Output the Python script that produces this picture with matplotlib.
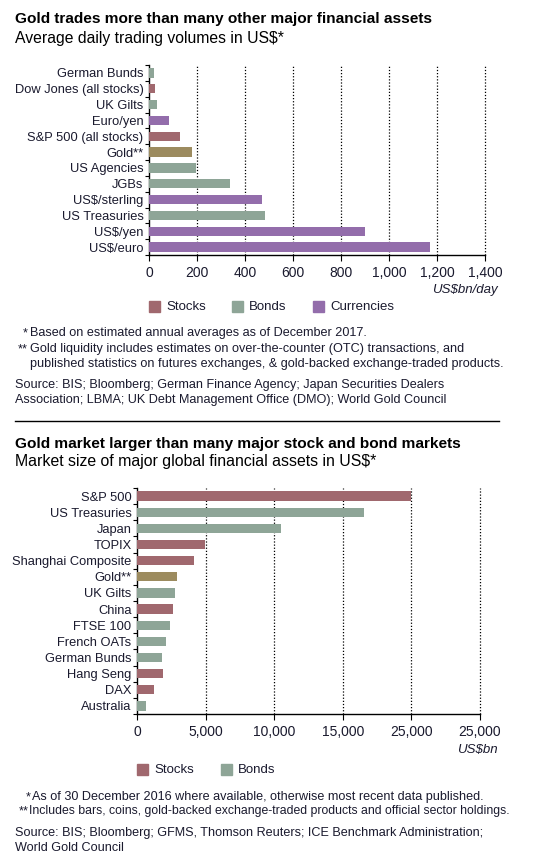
import numpy as np
import matplotlib.pyplot as plt
from matplotlib.patches import Rectangle

plt.rcParams['font.family'] = ['Liberation Sans', 'DejaVu Sans']

# -------------------------------------------------------------------------
# DATA
# -------------------------------------------------------------------------
trade_labels = ['German Bunds', 'Dow Jones (all stocks)', 'UK Gilts', 'Euro/yen',
                'S&P 500 (all stocks)', 'Gold**', 'US Agencies', 'JGBs',
                'US$/sterling', 'US Treasuries', 'US$/yen', 'US$/euro']
trade_values = [21, 25, 33, 83, 128, 180, 197, 338, 472, 485, 901, 1171]
trade_kinds = ['bond', 'stock', 'bond', 'fx', 'stock', 'gold', 'bond', 'bond',
               'fx', 'bond', 'fx', 'fx']
trade_ticks = [0, 200, 400, 600, 800, 1000, 1200, 1400]
trade_ticklabels = ['0', '200', '400', '600', '800', '1,000', '1,200', '1,400']

size_labels = ['S&P 500', 'US Treasuries', 'Japan', 'TOPIX', 'Shanghai Composite',
               'Gold**', 'UK Gilts', 'China', 'FTSE 100', 'French OATs',
               'German Bunds', 'Hang Seng', 'DAX', 'Australia']
size_values = [20000, 16520, 10460, 4930, 4150, 2930, 2740, 2600, 2400, 2090,
               1840, 1910, 1240, 660]
size_kinds = ['stock', 'bond', 'bond', 'stock', 'stock', 'gold', 'bond', 'stock',
              'bond', 'bond', 'bond', 'stock', 'stock', 'bond']
size_ticks = [0, 5000, 10000, 15000, 20000, 25000]
size_ticklabels = ['0', '5,000', '10,000', '15,000', '25,000', '25,000']

COLORS = {'stock': '#A0686E', 'bond': '#8EA597', 'fx': '#936DAB', 'gold': '#9C8B5F'}
TEXT = '#1a1a2e'

W, H = 538, 867
fig = plt.figure(figsize=(W / 100, H / 100), dpi=100)


def px_axes(left, top, right, bottom):
    return fig.add_axes([left / W, 1 - bottom / H, (right - left) / W, (bottom - top) / H])


def fx(x):
    return x / W


def fy(y):
    return 1 - y / H


def bar_panel(ax, labels, values, kinds, ticks, ticklabels, xmax):
    y = np.arange(len(labels))
    ax.barh(y, values, height=0.58, color=[COLORS[k] for k in kinds], zorder=3)
    ax.set_ylim(len(labels) - 0.5, -0.5)
    ax.set_xlim(0, xmax)
    ax.set_yticks(y)
    ax.set_yticklabels(labels, fontsize=9.3, color=TEXT)
    ax.tick_params(axis='y', length=0, pad=4)
    ax.set_yticks(np.arange(len(labels) + 1) - 0.5, minor=True)
    ax.tick_params(axis='y', which='minor', length=3, width=0.8)
    ax.set_xticks(ticks)
    ax.set_xticklabels(ticklabels, fontsize=10, color=TEXT)
    ax.tick_params(axis='x', length=4, width=0.8, pad=4)
    for t in ticks[1:]:
        ax.axvline(t, color='black', linestyle=(0, (1, 1.5)), linewidth=0.9,
                   zorder=1, clip_on=False)
    for s in ['top', 'right']:
        ax.spines[s].set_visible(False)
    ax.spines['left'].set_linewidth(1.0)
    ax.spines['bottom'].set_linewidth(1.0)


def legend_row(y, items):
    for x, kind, name in items:
        fig.patches.append(Rectangle((fx(x), fy(y + 5)), 11 / W, 11 / H,
                                     transform=fig.transFigure, color=COLORS[kind]))
        fig.text(fx(x + 17), fy(y), name, fontsize=9.5, va='center', color=TEXT)


# -------------------------------------------------------------------------
# PANEL 1
# -------------------------------------------------------------------------
fig.text(fx(15), fy(19), 'Gold trades more than many other major financial assets',
         fontsize=11.1, fontweight='bold', va='center')
fig.text(fx(15), fy(38), 'Average daily trading volumes in US$*', fontsize=11.3, va='center')

ax1 = px_axes(149, 65, 485, 255)
bar_panel(ax1, trade_labels, trade_values, trade_kinds, trade_ticks, trade_ticklabels, 1400)
fig.text(fx(498), fy(290), 'US$bn/day', fontsize=9.5, style='italic', ha='right', va='center',
         color=TEXT)

legend_row(307, [(149, 'stock', 'Stocks'), (232, 'bond', 'Bonds'), (313, 'fx', 'Currencies')])

fn = dict(fontsize=9.1, va='center', color=TEXT)
fig.text(fx(28), fy(333), '*', ha='right', **fn)
fig.text(fx(30), fy(333), 'Based on estimated annual averages as of December 2017.', **fn)
fig.text(fx(28), fy(349), '**', ha='right', **fn)
fig.text(fx(30), fy(349), 'Gold liquidity includes estimates on over-the-counter (OTC) transactions, and', **fn)
fig.text(fx(30), fy(364), 'published statistics on futures exchanges, & gold-backed exchange-traded products.', **fn)
fig.text(fx(15), fy(385), 'Source: BIS; Bloomberg; German Finance Agency; Japan Securities Dealers', **fn)
fig.text(fx(15), fy(400), 'Association; LBMA; UK Debt Management Office (DMO); World Gold Council', **fn)

fig.add_artist(plt.Line2D([fx(15), fx(499)], [fy(421), fy(421)], color='black', linewidth=1))

# -------------------------------------------------------------------------
# PANEL 2
# -------------------------------------------------------------------------
fig.text(fx(15), fy(444), 'Gold market larger than many major stock and bond markets',
         fontsize=11.1, fontweight='bold', va='center')
fig.text(fx(15), fy(462), 'Market size of major global financial assets in US$*', fontsize=11.4, va='center')

ax2 = px_axes(137, 488, 480, 714)
bar_panel(ax2, size_labels, size_values, size_kinds, size_ticks, size_ticklabels, 25000)
fig.text(fx(498), fy(750), 'US$bn', fontsize=9.5, style='italic', ha='right', va='center',
         color=TEXT)

legend_row(770, [(137, 'stock', 'Stocks'), (221, 'bond', 'Bonds')])

fig.text(fx(31), fy(797), '*', ha='right', **fn)
fig.text(fx(32), fy(797), 'As of 30 December 2016 where available, otherwise most recent data published.', **fn)
fig.text(fx(29), fy(811), '**', ha='right', **fn)
fig.text(fx(29), fy(811), 'Includes bars, coins, gold-backed exchange-traded products and official sector holdings.',
         fontsize=8.8, va='center', color=TEXT)
fig.text(fx(15), fy(833), 'Source: BIS; Bloomberg; GFMS, Thomson Reuters; ICE Benchmark Administration;', **fn)
fig.text(fx(15), fy(848), 'World Gold Council', **fn)

fig.savefig('out.png', dpi=100)
